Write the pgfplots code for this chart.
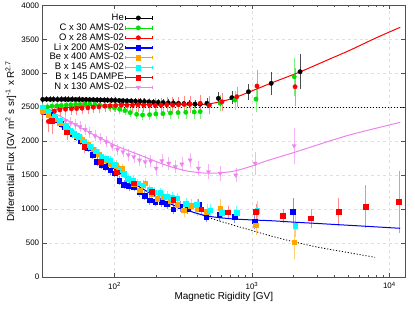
\documentclass[border=0pt]{standalone}
\usepackage{pgfplots}
\usepackage{pgfplotstable}
\pgfplotsset{compat=1.18}
\usepackage{fontspec}
\setmainfont{Liberation Sans}

\definecolor{cgreen}{RGB}{0,225,0}
\definecolor{cred}{RGB}{255,0,0}
\definecolor{cblue}{RGB}{0,0,255}
\definecolor{corange}{RGB}{255,165,0}
\definecolor{ccyan}{RGB}{0,255,255}
\definecolor{cviolet}{RGB}{238,130,238}
\definecolor{frame}{RGB}{80,80,80}

\pgfplotstableread{
R v e
30 2615 25
32 2617 25
34 2615 25
36 2616 25
38.5 2614 25
41 2615 25
43.5 2616 25
46 2614 25
49 2615 25
52 2613 25
55 2614 25
58.5 2612 25
62 2612 25
66 2610 25
70 2610 25
74.5 2608 25
79 2607 25
84 2605 25
89 2604 25
95 2602 25
101 2600 25
108 2598 25
115 2596 25
123 2594 25
132 2592 25
142 2589 28
153 2586 28
165 2583 28
178 2580 30
192 2576 30
208 2572 30
226 2568 32
246 2564 32
268 2560 35
292 2556 35
320 2552 38
350 2549 40
385 2546 42
420 2544 45
470 2557 55
570 2630 70
714 2640 80
944 2728 100
1381 2851 150
2240 3022 240
}\tHe

\pgfplotstableread{
R v e
30 2500 40
32.5 2505 40
35 2515 40
38 2520 40
41 2525 40
44.5 2530 40
48 2535 40
52 2540 40
56 2540 40
61 2545 40
66 2545 40
72 2540 42
78 2530 42
85 2520 45
92 2505 45
100 2490 45
109 2470 48
119 2450 50
130 2420 50
145 2395 55
160 2385 55
180 2390 58
200 2400 60
225 2405 62
255 2415 65
290 2420 70
330 2425 75
380 2430 80
420 2435 90
588 2557 100
751 2605 120
1070 2620 170
2030 2948 260
}\tC

\pgfplotstableread{
R v e
30 2420 80
33 2290 130
36.5 2440 80
40 2460 75
44 2470 70
48.5 2475 70
53 2480 70
58 2485 70
64 2490 70
70 2500 70
77 2505 70
85 2515 70
93 2520 72
102 2525 72
112 2530 75
123 2530 75
135 2530 78
148 2535 80
163 2530 82
180 2530 85
198 2525 88
218 2530 90
240 2535 92
265 2530 95
292 2535 98
322 2540 100
355 2545 105
420 2557 110
490 2532 110
605 2580 110
776 2654 130
1088 2811 210
2060 2801 260
}\tO

\pgfplotstableread{
R v e
30 2470 40
32 2430 40
34 2390 40
36 2350 40
38.5 2310 40
41 2260 40
43.5 2210 40
46.5 2160 40
49.5 2110 40
53 2060 40
56.5 2000 40
60 1960 40
64 1900 40
69 1800 40
74.5 1700 42
80 1650 42
86 1620 42
93 1570 45
100 1530 45
108 1420 45
117 1360 45
127 1340 48
138 1330 48
151 1250 50
165 1200 50
180 1130 50
198 1110 52
218 1100 52
240 1080 55
268 996 55
300 1040 58
340 1000 60
408 1060 65
465 888 65
577 913 70
748 888 80
1043 824 100
1985 961 180
}\tLi

\pgfplotstableread{
R v e
30 2440 50
33 2390 50
36 2330 50
40 2270 50
44 2210 50
48 2140 50
53 2080 50
58 2020 50
64 1950 50
70 1880 52
77 1810 52
85 1720 55
93 1660 55
103 1640 58
113 1590 58
125 1440 60
138 1370 60
152 1280 62
167 1379 65
185 1220 65
205 1150 68
228 1180 70
255 1120 72
285 1060 75
320 986 78
360 1050 80
400 1000 85
470 961 90
588 1011 120
1067 765 130
2030 511 220
}\tBe

\pgfplotstableread{
R v e
30 2500 40
33 2440 40
36.5 2370 40
40 2300 40
44 2230 40
47.6 2164 40
51 2110 40
54.7 2065 40
60 2000 40
66.5 1918 40
73 1850 40
80 1780 42
86 1740 42
93 1720 42
100 1649 45
108 1580 45
117 1520 45
126 1453 48
136 1420 48
147 1380 50
162 1354 50
180 1290 52
195 1250 52
215 1241 55
240 1190 55
262 1170 58
284 1158 58
330 1080 60
398 1060 65
496 986 70
605 947 75
775 947 85
1090 980 120
2060 751 150
}\tB

\pgfplotstableread{
R v e
35 2300 170
45 2130 90
60 1920 70
79 1700 65
104 1540 60
138 1379 55
187 1256 50
268 1140 55
427 996 60
668 955 70
1067 965 85
1680 902 85
2680 864 120
4265 961 190
6730 1035 295
11750 1108 440
}\tBD

\pgfplotstableread{
R v e
44 2300 60
48 2272 60
52 2240 60
56 2213 60
61 2170 60
66 2130 60
72 2080 60
79 2040 60
87 1990 62
96 1930 62
105 1880 65
115 1844 65
126 1800 68
138 1771 70
152 1722 72
167 1697 75
183 1707 75
201 1600 78
221 1712 80
248 1674 80
277 1624 80
309 1663 85
355 1722 85
408 1600 85
483 1550 90
588 1526 90
763 1501 90
1055 1674 150
2030 1933 245
}\tN

\pgfplotsset{
  errcommon/.style={only marks, error bars/.cd, y dir=both, y explicit,
     error mark options={line width=0.5bp, mark size=1.3bp}},
}

\begin{document}
\begin{tikzpicture}
\useasboundingbox (0,0) rectangle (415bp,312bp);
\begin{axis}[
  at={(42.7bp,35bp)}, anchor=south west,
  scale only axis, width=362.3bp, height=271.7bp,
  xmode=log, xmin=30, xmax=13000,
  ymin=0, ymax=4000,
  ytick={0,500,...,4000},
  xtick={100,1000,10000},
  xticklabels={10\textsuperscript{2},10\textsuperscript{3},10\textsuperscript{4}},
  minor y tick num=0,
  axis line style={frame, line width=0.6bp},
  tick style={frame, line width=0.5bp},
  major tick length=4bp, minor tick length=2bp,
  tick align=inside,
  grid=major,
  major grid style={dashed, gray!25, line width=0.4bp},
  /pgf/number format/assume math mode=true,
  /pgf/number format/1000 sep={},
  ticklabel style={font=\fontsize{8}{9}\selectfont},
  xticklabel style={yshift=-1.5bp},
  xlabel={Magnetic Rigidity [GV]},
  ylabel={Differential Flux [GV m\textsuperscript{2} s sr]\textsuperscript{-1} x R\textsuperscript{2.7}},
  xlabel style={font=\fontsize{10}{12}\selectfont, at={(axis description cs:0.5,-0.074)}, anchor=center},
  ylabel style={font=\fontsize{10}{12}\selectfont, at={(axis description cs:-0.088,0.5)}, anchor=center},
  legend cell align=right,
  legend plot pos=right,
  legend style={at={(axis description cs:0.304,0.974)}, anchor=north east,
     draw=none, fill=white, inner sep=0.5bp,
     font=\fontsize{9.5}{10}\selectfont,
     nodes={inner sep=0.7bp, text height=6.6bp, text depth=1.9bp},
     row sep=0bp},
  legend image code/.code={
     \draw[#1, mark=none, line width=0.6bp] (0bp,0bp) -- (27bp,0bp);
     \draw[#1, mark=none, line width=0.6bp] (0bp,-1.6bp) -- (0bp,1.6bp) (27bp,-1.6bp) -- (27bp,1.6bp);
     \draw[#1, mark repeat=2, mark phase=2] plot coordinates {(0bp,0bp) (13.5bp,0bp) (27bp,0bp)};
  },
]
% legend entries
\addlegendimage{black, mark=*, mark size=2.2bp}
\addlegendentry{He}
\addlegendimage{cgreen, mark=*, mark size=2.2bp}
\addlegendentry{C x 30 AMS-02}
\addlegendimage{cred, mark=*, mark size=2.2bp}
\addlegendentry{O x 28 AMS-02}
\addlegendimage{cblue, mark=square*, mark size=2.3bp}
\addlegendentry{Li x 200 AMS-02}
\addlegendimage{corange, mark=square*, mark size=2.3bp}
\addlegendentry{Be x 400 AMS-02}
\addlegendimage{ccyan, mark=square*, mark size=2.3bp}
\addlegendentry{B x 145 AMS-02}
\addlegendimage{cred, mark=square*, mark size=2.3bp}
\addlegendentry{B x 145 DAMPE}
\addlegendimage{cviolet, mark=triangle*, mark size=2.4bp, mark options={rotate=180}}
\addlegendentry{N x 130 AMS-02}

% reference dotted lines
\addplot[black, line width=0.8bp, dash pattern=on 1.2bp off 1.8bp, forget plot] coordinates {(30,2500) (13000,2500)};
\addplot[black, line width=0.8bp, dash pattern=on 1.2bp off 1.8bp, forget plot, smooth] coordinates {
(30,2500) (40,2290) (50,2120) (70,1850) (100,1590) (140,1370) (190,1210) (270,1055) (400,935) (500,865) (700,775) (970,692) (1400,600) (2000,520) (3000,440) (5000,360) (7870,290)};

% data
\addplot[forget plot, black, mark=*, mark size=2.2bp, errcommon, error bar style={gray!60!black, line width=0.5bp}]
  table[x=R, y=v, y error=e] {\tHe};
\addplot[forget plot, cgreen, mark=*, mark size=2.2bp, errcommon, error bar style={cgreen!50, line width=0.5bp}]
  table[x=R, y=v, y error=e] {\tC};
\addplot[forget plot, cred, mark=*, mark size=2.2bp, errcommon, error bar style={cred!45, line width=0.5bp}]
  table[x=R, y=v, y error=e] {\tO};
\addplot[forget plot, cblue, mark=square*, mark size=2.3bp, errcommon, error bar style={cblue!45, line width=0.5bp}]
  table[x=R, y=v, y error=e] {\tLi};
\addplot[forget plot, corange, mark=square*, mark size=2.3bp, errcommon, error bar style={corange!55, line width=0.5bp}]
  table[x=R, y=v, y error=e] {\tBe};
\addplot[forget plot, ccyan, mark=square*, mark size=2.3bp, errcommon, error bar style={ccyan!60, line width=0.5bp}]
  table[x=R, y=v, y error=e] {\tB};
\addplot[forget plot, cred, mark=square*, mark size=2.3bp, errcommon, error bar style={cred!45, line width=0.5bp}]
  table[x=R, y=v, y error=e] {\tBD};
\addplot[forget plot, cviolet, mark=triangle*, mark size=2.4bp, mark options={rotate=180}, errcommon, error bar style={cviolet!60, line width=0.5bp}]
  table[x=R, y=v, y error=e] {\tN};

% model curves
\addplot[forget plot, cred, line width=1bp, smooth] coordinates {
(30,2430) (40,2480) (50,2505) (70,2525) (100,2535) (200,2540) (300,2540) (470,2545) (700,2620) (1000,2740) (1400,2860) (2240,3020) (3500,3190) (5180,3340) (8000,3520) (12000,3676)};
\addplot[forget plot, cblue, line width=1bp, smooth] coordinates {
(30,2500) (35,2390) (40,2290) (45,2200) (50,2120) (60,1980) (70,1850) (80,1740) (90,1660) (100,1590) (120,1470) (140,1370) (160,1300) (190,1210) (230,1120) (270,1055) (330,990) (400,935) (500,890) (700,858) (1000,840) (1400,828) (2000,808) (3000,788) (5000,762) (8000,738) (12000,717)};
\addplot[forget plot, cviolet, line width=1bp, smooth] coordinates {
(30,2500) (40,2370) (50,2260) (60,2170) (70,2100) (80,2040) (100,1940) (130,1850) (160,1780) (200,1700) (250,1630) (300,1585) (350,1555) (450,1530) (550,1530) (700,1550) (850,1590) (1055,1650) (1300,1715) (2000,1830) (3000,1945) (5000,2085) (8000,2190) (12000,2277)};
\end{axis}
\end{tikzpicture}
\end{document}
